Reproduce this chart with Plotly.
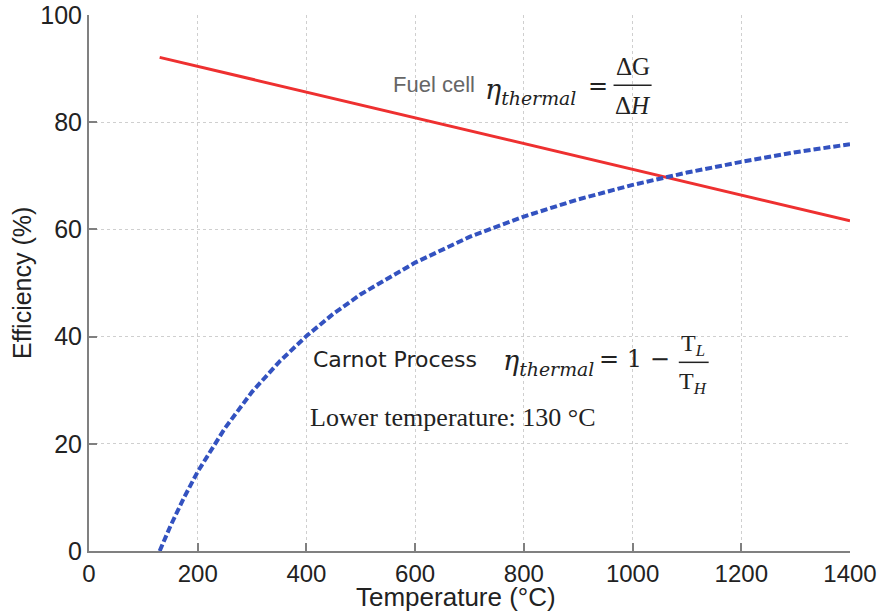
import plotly.graph_objects as go

# Data
carnot_T = [130, 150, 175, 200, 250, 300, 350, 400, 450, 500, 600, 700, 800, 900, 1000, 1100, 1200, 1300, 1400]
carnot_eff = [0.0, 4.7, 10.0, 14.8, 22.9, 29.7, 35.3, 40.1, 44.3, 47.9, 53.8, 58.6, 62.4, 65.6, 68.3, 70.6, 72.6, 74.4, 75.9]
fuel_T = [130, 400, 600, 800, 1000, 1200, 1400]
fuel_eff = [92.1, 85.6, 80.8, 76.0, 71.2, 66.4, 61.6]
x_ticks = [0, 200, 400, 600, 800, 1000, 1200, 1400]
y_ticks = [0, 20, 40, 60, 80, 100]

fig = go.Figure()
fig.add_trace(go.Scatter(x=fuel_T, y=fuel_eff, mode="lines",
                         line=dict(color="#ee3030", width=3), showlegend=False))
fig.add_trace(go.Scatter(x=carnot_T, y=carnot_eff, mode="lines",
                         line=dict(color="#3352c0", width=4, dash="7px,3px"), showlegend=False))

sans = "Liberation Sans"
serif = "Liberation Serif"
mserif = "DejaVu Serif"
ink = "#222222"
ann = []
# Fuel cell label
ann.append(dict(x=555, y=87.0, text="Fuel cell", xanchor="left", yanchor="middle",
                font=dict(family="Liberation Sans Narrow, " + sans, size=22, color="#666666")))
ann.append(dict(x=725, y=85.8, text="<i>η<sub>thermal</sub></i>", xanchor="left", yanchor="middle",
                font=dict(family=mserif, size=27, color=ink)))
ann.append(dict(x=936, y=86.8, text="=", xanchor="center", yanchor="middle",
                font=dict(family=mserif, size=24, color=ink)))
ann.append(dict(x=1000, y=90.3, text="ΔG", xanchor="center", yanchor="middle",
                font=dict(family=serif, size=25, color=ink)))
ann.append(dict(x=1000, y=83.2, text="Δ<i>H</i>", xanchor="center", yanchor="middle",
                font=dict(family=serif, size=25, color=ink)))
# Carnot label
ann.append(dict(x=408, y=35.8, text="Carnot Process", xanchor="left", yanchor="middle",
                font=dict(family="DejaVu Sans", size=22, color=ink)))
ann.append(dict(x=758, y=35.1, text="<i>η<sub>thermal</sub></i>", xanchor="left", yanchor="middle",
                font=dict(family=mserif, size=27, color=ink)))
ann.append(dict(x=1004, y=35.9, text="= 1 −", xanchor="center", yanchor="middle",
                font=dict(family=mserif, size=24, color=ink)))
ann.append(dict(x=1112, y=38.4, text="T<sub><i>L</i></sub>", xanchor="center", yanchor="middle",
                font=dict(family=serif, size=24, color=ink)))
ann.append(dict(x=1112, y=31.3, text="T<sub><i>H</i></sub>", xanchor="center", yanchor="middle",
                font=dict(family=serif, size=24, color=ink)))
ann.append(dict(x=403, y=24.9, text="Lower temperature: 130 °C", xanchor="left", yanchor="middle",
                font=dict(family=serif, size=26, color=ink)))
for a in ann:
    a.update(xref="x", yref="y", showarrow=False)

# Axis titles
ann.append(dict(xref="paper", yref="paper", x=0.482, y=-0.086, text="Temperature (°C)",
                xanchor="center", yanchor="middle", showarrow=False,
                font=dict(family=sans, size=26, color=ink)))
ann.append(dict(xref="paper", yref="paper", x=-0.088, y=0.5, text="Efficiency (%)", textangle=-90,
                xanchor="center", yanchor="middle", showarrow=False,
                font=dict(family=sans, size=25, color=ink)))

fig.update_layout(
    width=885, height=613,
    margin=dict(l=89, r=35, t=15, b=62),
    paper_bgcolor="white", plot_bgcolor="white",
    annotations=ann,
    shapes=[
        dict(type="line", xref="x", yref="y", x0=965, x1=1035, y0=86.9, y1=86.9,
             line=dict(color=ink, width=1.5)),
        dict(type="line", xref="x", yref="y", x0=1085, x1=1140, y0=35.2, y1=35.2,
             line=dict(color=ink, width=1.5)),
    ],
    xaxis=dict(range=[0, 1400], tickvals=x_ticks, showline=True, linecolor="#808080", linewidth=2,
               ticks="inside", ticklen=8, tickcolor="#808080", tickwidth=2, automargin=False,
               showgrid=True, gridcolor="#cfcfcf", griddash="dot", gridwidth=1, zeroline=False,
               tickfont=dict(family=sans, size=24, color=ink)),
    yaxis=dict(range=[0, 100], tickvals=y_ticks, showline=True, linecolor="#808080", linewidth=2,
               ticks="inside", ticklen=8, tickcolor="#808080", tickwidth=2, automargin=False,
               showgrid=True, gridcolor="#cfcfcf", griddash="dot", gridwidth=1, zeroline=False,
               tickfont=dict(family=sans, size=25, color=ink)),
)
fig.write_html("out.html", config={"displayModeBar": False},
               post_script="document.body.style.margin='0';document.body.style.padding='0';")
